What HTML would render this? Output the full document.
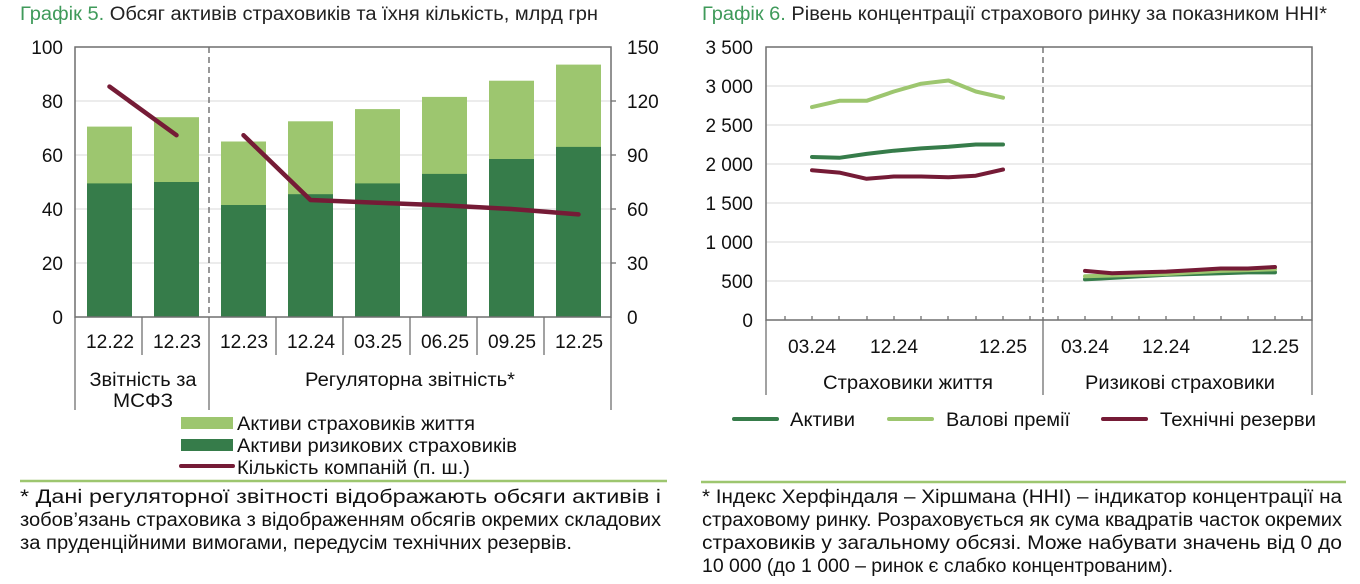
<!DOCTYPE html>
<html><head><meta charset="utf-8"><style>
body{margin:0;background:#fff;}
svg{display:block;font-family:"Liberation Sans",sans-serif;}
</style></head><body>
<svg width="1360" height="584" viewBox="0 0 1360 584" xmlns="http://www.w3.org/2000/svg">
<text x="20" y="20" font-size="19" fill="#222" textLength="578" lengthAdjust="spacingAndGlyphs"><tspan fill="#3f9a5a">Графік 5.</tspan> Обсяг активів страховиків та їхня кількість, млрд грн</text>
<g stroke="#d9d9d9" stroke-width="1">
<line x1="75" y1="101" x2="611" y2="101"/><line x1="75" y1="155" x2="611" y2="155"/><line x1="75" y1="209" x2="611" y2="209"/><line x1="75" y1="263" x2="611" y2="263"/>
</g>
<g fill="#9dc66f">
<rect x="87" y="126.6" width="45" height="190.4"/><rect x="154" y="117.2" width="45" height="199.8"/>
<rect x="221" y="141.5" width="45" height="175.5"/><rect x="288" y="121.3" width="45" height="195.7"/>
<rect x="355" y="109.1" width="45" height="207.9"/><rect x="422" y="96.9" width="45" height="220.1"/>
<rect x="489" y="80.7" width="45" height="236.3"/><rect x="556" y="64.6" width="45" height="252.4"/>
</g>
<g fill="#367c4a">
<rect x="87" y="183.4" width="45" height="133.6"/><rect x="154" y="182" width="45" height="135"/>
<rect x="221" y="205" width="45" height="112"/><rect x="288" y="194.2" width="45" height="122.8"/>
<rect x="355" y="183.4" width="45" height="133.6"/><rect x="422" y="173.9" width="45" height="143.1"/>
<rect x="489" y="159" width="45" height="158"/><rect x="556" y="146.9" width="45" height="170.1"/>
</g>
<line x1="209" y1="47" x2="209" y2="317" stroke="#555" stroke-width="1.2" stroke-dasharray="6,4"/>
<g fill="none" stroke="#751b36" stroke-width="4.5" stroke-linecap="round" stroke-linejoin="round">
<polyline points="109.5,86.6 176.5,135.2"/>
<polyline points="243.5,135.2 310.5,200 377.5,202.7 444.5,205.4 511.5,209 578.5,214.4"/>
</g>
<rect x="75" y="47" width="536" height="270" fill="none" stroke="#6f6f6f" stroke-width="1.5"/>
<g stroke="#6f6f6f" stroke-width="1.3">
<line x1="75" y1="317" x2="75" y2="410"/><line x1="142" y1="317" x2="142" y2="355"/><line x1="209" y1="317" x2="209" y2="410"/>
<line x1="276" y1="317" x2="276" y2="355"/><line x1="343" y1="317" x2="343" y2="355"/><line x1="410" y1="317" x2="410" y2="355"/>
<line x1="477" y1="317" x2="477" y2="355"/><line x1="544" y1="317" x2="544" y2="355"/><line x1="611" y1="317" x2="611" y2="410"/>
<line x1="611" y1="101" x2="616" y2="101"/><line x1="611" y1="155" x2="616" y2="155"/><line x1="611" y1="209" x2="616" y2="209"/><line x1="611" y1="263" x2="616" y2="263"/>
</g>
<g font-size="19" fill="#111" text-anchor="end">
<text x="63" y="54">100</text><text x="63" y="108">80</text><text x="63" y="162">60</text><text x="63" y="216">40</text><text x="63" y="270">20</text><text x="63" y="324">0</text>
</g>
<g font-size="19" fill="#111" text-anchor="start">
<text x="627" y="54">150</text><text x="627" y="108">120</text><text x="627" y="162">90</text><text x="627" y="216">60</text><text x="627" y="270">30</text><text x="627" y="324">0</text>
</g>
<g font-size="19" fill="#111" text-anchor="middle" lengthAdjust="spacingAndGlyphs">
<text x="110" y="348" textLength="48" lengthAdjust="spacingAndGlyphs">12.22</text><text x="177" y="348" textLength="48" lengthAdjust="spacingAndGlyphs">12.23</text><text x="244" y="348" textLength="48" lengthAdjust="spacingAndGlyphs">12.23</text><text x="311" y="348" textLength="48" lengthAdjust="spacingAndGlyphs">12.24</text>
<text x="378" y="348" textLength="48" lengthAdjust="spacingAndGlyphs">03.25</text><text x="445" y="348" textLength="48" lengthAdjust="spacingAndGlyphs">06.25</text><text x="512" y="348" textLength="48" lengthAdjust="spacingAndGlyphs">09.25</text><text x="579" y="348" textLength="48" lengthAdjust="spacingAndGlyphs">12.25</text>
<text x="143" y="386" textLength="107" lengthAdjust="spacingAndGlyphs">Звітність за</text><text x="143" y="407" textLength="60" lengthAdjust="spacingAndGlyphs">МСФЗ</text><text x="410" y="386" textLength="210" lengthAdjust="spacingAndGlyphs">Регуляторна звітність*</text>
</g>
<rect x="181" y="417" width="52" height="12" fill="#9dc66f"/>
<rect x="181" y="439" width="52" height="12" fill="#367c4a"/>
<line x1="181" y1="466" x2="233" y2="466" stroke="#751b36" stroke-width="4" stroke-linecap="round"/>
<g font-size="19" fill="#111">
<text x="237" y="430" textLength="238" lengthAdjust="spacingAndGlyphs">Активи страховиків життя</text>
<text x="237" y="452" textLength="280" lengthAdjust="spacingAndGlyphs">Активи ризикових страховиків</text>
<text x="237" y="474" textLength="233" lengthAdjust="spacingAndGlyphs">Кількість компаній (п. ш.)</text>
</g>
<line x1="20" y1="481" x2="667" y2="481" stroke="#9dc66f" stroke-width="2.5"/>
<g font-size="19" fill="#111">
<text x="20" y="503" textLength="641" lengthAdjust="spacingAndGlyphs">* Дані   регуляторної   звітності   відображають   обсяги   активів   і</text>
<text x="20" y="526" textLength="641" lengthAdjust="spacingAndGlyphs">зобов’язань страховика з відображенням обсягів окремих складових</text>
<text x="20" y="549" textLength="552" lengthAdjust="spacingAndGlyphs">за пруденційними вимогами, передусім технічних резервів.</text>
</g>

<text x="702" y="20" font-size="19" fill="#222" textLength="625" lengthAdjust="spacingAndGlyphs"><tspan fill="#3f9a5a">Графік 6.</tspan> Рівень концентрації страхового ринку за показником ННІ*</text>
<g stroke="#d9d9d9" stroke-width="1">
<line x1="766" y1="86" x2="1312" y2="86"/><line x1="766" y1="125" x2="1312" y2="125"/><line x1="766" y1="164" x2="1312" y2="164"/>
<line x1="766" y1="203" x2="1312" y2="203"/><line x1="766" y1="242" x2="1312" y2="242"/><line x1="766" y1="281" x2="1312" y2="281"/>
</g>
<line x1="1043" y1="47" x2="1043" y2="320" stroke="#555" stroke-width="1.2" stroke-dasharray="6,4"/>
<g fill="none" stroke-width="4" stroke-linecap="round" stroke-linejoin="round">
<polyline stroke="#9dc66f" points="812,107.1 839.3,100.8 866.6,100.8 893.9,91.5 921.2,83.7 948.5,80.5 975.8,91.5 1003,97.7"/>
<polyline stroke="#367c4a" points="812,157 839.3,157.8 866.6,153.9 893.9,150.7 921.2,148.4 948.5,146.8 975.8,144.5 1003,144.5"/>
<polyline stroke="#751b36" points="812,170.2 839.3,172.6 866.6,178.8 893.9,176.5 921.2,176.5 948.5,177.3 975.8,175.7 1003,169.5"/>
<polyline stroke="#367c4a" points="1085,279.4 1112.1,277.9 1139.3,276.3 1166.4,274.8 1193.6,274 1220.7,273.2 1247.9,272.4 1275,272.4"/>
<polyline stroke="#9dc66f" points="1085,276.3 1112.1,275.5 1139.3,274.8 1166.4,274 1193.6,272.4 1220.7,270.9 1247.9,270.1 1275,269.3"/>
<polyline stroke="#751b36" points="1085,270.9 1112.1,273.2 1139.3,272.4 1166.4,271.6 1193.6,270.1 1220.7,268.5 1247.9,268.5 1275,267"/>
</g>
<rect x="766" y="47" width="546" height="273" fill="none" stroke="#6f6f6f" stroke-width="1.5"/>
<g stroke="#6f6f6f" stroke-width="1.3">
<line x1="766" y1="320" x2="766" y2="395"/><line x1="1043" y1="320" x2="1043" y2="395"/><line x1="1312" y1="320" x2="1312" y2="395"/>
<line x1="785" y1="320" x2="785" y2="316"/><line x1="812" y1="320" x2="812" y2="316"/><line x1="839" y1="320" x2="839" y2="316"/><line x1="867" y1="320" x2="867" y2="316"/><line x1="894" y1="320" x2="894" y2="316"/><line x1="921" y1="320" x2="921" y2="316"/><line x1="948" y1="320" x2="948" y2="316"/><line x1="976" y1="320" x2="976" y2="316"/><line x1="1003" y1="320" x2="1003" y2="316"/><line x1="1030" y1="320" x2="1030" y2="316"/>
<line x1="1058" y1="320" x2="1058" y2="316"/><line x1="1085" y1="320" x2="1085" y2="316"/><line x1="1112" y1="320" x2="1112" y2="316"/><line x1="1139" y1="320" x2="1139" y2="316"/><line x1="1166" y1="320" x2="1166" y2="316"/><line x1="1194" y1="320" x2="1194" y2="316"/><line x1="1221" y1="320" x2="1221" y2="316"/><line x1="1248" y1="320" x2="1248" y2="316"/><line x1="1275" y1="320" x2="1275" y2="316"/><line x1="1302" y1="320" x2="1302" y2="316"/>
</g>
<g font-size="19" fill="#111" text-anchor="end">
<text x="753" y="54">3 500</text><text x="753" y="93">3 000</text><text x="753" y="132">2 500</text><text x="753" y="171">2 000</text>
<text x="753" y="210">1 500</text><text x="753" y="249">1 000</text><text x="753" y="288">500</text><text x="753" y="327">0</text>
</g>
<g font-size="19" fill="#111" text-anchor="middle">
<text x="812" y="353" textLength="48" lengthAdjust="spacingAndGlyphs">03.24</text><text x="894" y="353" textLength="48" lengthAdjust="spacingAndGlyphs">12.24</text><text x="1003" y="353" textLength="48" lengthAdjust="spacingAndGlyphs">12.25</text>
<text x="1085" y="353" textLength="48" lengthAdjust="spacingAndGlyphs">03.24</text><text x="1166" y="353" textLength="48" lengthAdjust="spacingAndGlyphs">12.24</text><text x="1275" y="353" textLength="48" lengthAdjust="spacingAndGlyphs">12.25</text>
<text x="908" y="389" textLength="170" lengthAdjust="spacingAndGlyphs">Страховики життя</text><text x="1180" y="389" textLength="190" lengthAdjust="spacingAndGlyphs">Ризикові страховики</text>
</g>
<g stroke-width="4" stroke-linecap="round">
<line x1="734" y1="419" x2="777" y2="419" stroke="#367c4a"/>
<line x1="889" y1="419" x2="932" y2="419" stroke="#9dc66f"/>
<line x1="1103" y1="419" x2="1146" y2="419" stroke="#751b36"/>
</g>
<g font-size="19" fill="#111">
<text x="790" y="426" textLength="65" lengthAdjust="spacingAndGlyphs">Активи</text>
<text x="946" y="426" textLength="124" lengthAdjust="spacingAndGlyphs">Валові премії</text>
<text x="1160" y="426" textLength="156" lengthAdjust="spacingAndGlyphs">Технічні резерви</text>
</g>
<line x1="701" y1="482" x2="1346" y2="482" stroke="#9dc66f" stroke-width="2.5"/>
<g font-size="19" fill="#111">
<text x="702" y="503" textLength="640" lengthAdjust="spacingAndGlyphs">* Індекс Херфіндаля – Хіршмана (ННІ) – індикатор концентрації на</text>
<text x="702" y="526" textLength="640" lengthAdjust="spacingAndGlyphs">страховому ринку. Розраховується як сума квадратів часток окремих</text>
<text x="702" y="549" textLength="640" lengthAdjust="spacingAndGlyphs">страховиків  у  загальному  обсязі.  Може  набувати  значень  від  0  до</text>
<text x="702" y="572" textLength="471" lengthAdjust="spacingAndGlyphs">10 000 (до 1 000 – ринок є слабко концентрованим).</text>
</g>
</svg>
</body></html>
